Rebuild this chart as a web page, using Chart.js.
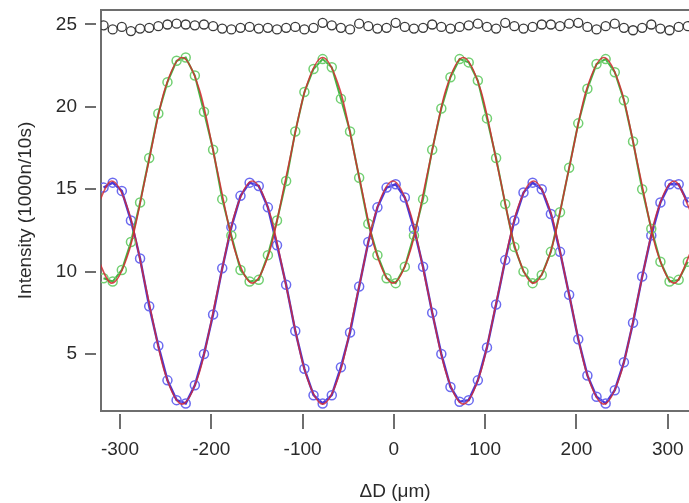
<!DOCTYPE html>
<html>
<head>
<meta charset="utf-8">
<script src="https://cdn.jsdelivr.net/npm/chart.js@4.4.1/dist/chart.umd.min.js"></script>
<style>
  html, body { margin: 0; padding: 0; background: #fff; }
</style>
</head>
<body>
<canvas id="grafico" width="689" height="503"></canvas>
<script>
// posições ΔD (µm) das medidas
const posicoes = [-318, -308, -298, -288, -278, -268, -258, -248, -238, -228,
  -218, -208, -198, -188, -178, -168, -158, -148, -138, -128,
  -118, -108, -98, -88, -78, -68, -58, -48, -38, -28,
  -18, -8, 2, 12, 22, 32, 42, 52, 62, 72,
  82, 92, 102, 112, 122, 132, 142, 152, 162, 172,
  182, 192, 202, 212, 222, 232, 242, 252, 262, 272,
  282, 292, 302, 312, 322];

// soma (círculos pretos)
const total = [24.95, 24.7, 24.85, 24.6, 24.75, 24.8, 24.9, 25.0, 25.05, 25.0,
  24.95, 25.0, 24.9, 24.75, 24.7, 24.8, 24.85, 24.75, 24.8, 24.7,
  24.8, 24.85, 24.7, 24.8, 25.1, 24.95, 24.8, 24.7, 25.05, 24.9,
  24.75, 24.8, 25.1, 24.85, 24.75, 24.8, 25.0, 24.85, 24.75, 24.85,
  24.95, 25.05, 24.85, 24.75, 25.1, 24.9, 24.75, 24.85, 25.0, 25.0,
  24.9, 25.05, 25.1, 24.85, 24.7, 24.9, 25.05, 24.8, 24.65, 24.8,
  25.0, 24.75, 24.65, 24.85, 24.9];

// canal verde
const verde = [9.6, 9.4, 10.1, 11.8, 14.2, 16.9, 19.6, 21.5, 22.8, 23.0,
  21.9, 19.7, 17.4, 14.4, 12.2, 10.1, 9.4, 9.5, 11.0, 13.1,
  15.5, 18.5, 20.9, 22.3, 22.9, 22.4, 20.5, 18.5, 15.7, 12.9,
  11.0, 9.6, 9.3, 10.3, 12.2, 14.4, 17.4, 19.9, 21.8, 22.9,
  22.7, 21.6, 19.3, 16.9, 14.1, 11.5, 10.0, 9.3, 9.8, 11.2,
  13.6, 16.3, 19.0, 21.1, 22.6, 22.9, 22.1, 20.4, 17.9, 15.0,
  12.6, 10.6, 9.4, 9.5, 10.6];

// canal azul
const azul = [15.1, 15.4, 14.9, 13.1, 10.8, 7.9, 5.5, 3.4, 2.2, 2.0,
  3.1, 5.0, 7.4, 10.2, 12.7, 14.6, 15.4, 15.2, 13.9, 11.6,
  9.2, 6.4, 4.1, 2.5, 2.0, 2.5, 4.2, 6.3, 9.1, 11.8,
  13.9, 15.1, 15.3, 14.5, 12.6, 10.3, 7.5, 5.0, 3.0, 2.1,
  2.2, 3.4, 5.4, 8.0, 10.7, 13.1, 14.8, 15.4, 15.0, 13.5,
  11.2, 8.6, 5.9, 3.7, 2.4, 2.0, 2.8, 4.5, 6.9, 9.7,
  12.2, 14.2, 15.3, 15.3, 14.2];

// curvas de ajuste (vermelho)
const posicoesAjuste = [-328.25, -309, -289.75, -270.5, -251.25, -232, -212.75, -193.5, -174.25, -155,
  -135.75, -116.5, -97.25, -78, -58.75, -39.5, -20.25, -1, 18.25, 37.5,
  56.75, 76, 95.25, 114.5, 133.75, 153, 172.25, 191.5, 210.75, 230,
  249.25, 268.5, 287.75, 307, 326.25];
const ajusteVerde = [11.31, 9.3, 11.31, 16.15, 20.99, 23.0, 20.99, 16.15, 11.31, 9.3,
  11.31, 16.15, 20.99, 23.0, 20.99, 16.15, 11.31, 9.3, 11.31, 16.15,
  20.99, 23.0, 20.99, 16.15, 11.31, 9.3, 11.31, 16.15, 20.99, 23.0,
  20.99, 16.15, 11.31, 9.3, 11.31];
const ajusteAzul = [13.52, 15.5, 13.52, 8.73, 3.94, 1.96, 3.94, 8.73, 13.52, 15.5,
  13.52, 8.73, 3.94, 1.96, 3.94, 8.73, 13.52, 15.5, 13.52, 8.73,
  3.94, 1.96, 3.94, 8.73, 13.52, 15.5, 13.52, 8.73, 3.94, 1.96,
  3.94, 8.73, 13.52, 15.5, 13.52];

const rotulosX = [-300, -200, -100, 0, 100, 200, 300];
const rotulosY = [5, 10, 15, 20, 25];

const COR_EIXO = '#6e6e6e';
const COR_TEXTO = '#2a2a2a';
const FONTE = "'Liberation Sans', Arial, Helvetica, sans-serif";

function pares(xs, ys) {
  return xs.map((x, i) => ({ x: x, y: ys[i] }));
}

// moldura superior e marcas dos eixos (afastadas do eixo, como no original)
const marcasEixo = {
  id: 'marcasEixo',
  afterDraw(chart) {
    const { ctx, chartArea, scales } = chart;
    ctx.save();
    ctx.strokeStyle = COR_EIXO;
    ctx.lineWidth = 2;
    ctx.beginPath();
    ctx.moveTo(chartArea.left - 1, chartArea.top);
    ctx.lineTo(chartArea.right, chartArea.top);
    rotulosX.forEach(v => {
      const x = Math.round(scales.x.getPixelForValue(v));
      ctx.moveTo(x, chartArea.bottom + 3);
      ctx.lineTo(x, chartArea.bottom + 18);
    });
    rotulosY.forEach(v => {
      const y = Math.round(scales.y.getPixelForValue(v));
      ctx.moveTo(chartArea.left - 16, y);
      ctx.lineTo(chartArea.left - 5, y);
    });
    ctx.stroke();
    ctx.restore();
  }
};

const ctx = document.getElementById('grafico').getContext('2d');
new Chart(ctx, {
  type: 'line',
  data: {
    datasets: [
      {
        label: 'ajuste verde',
        data: pares(posicoesAjuste, ajusteVerde),
        borderColor: 'rgba(212, 40, 48, 0.85)',
        borderWidth: 1.6,
        pointRadius: 0,
        cubicInterpolationMode: 'monotone',
        order: 0
      },
      {
        label: 'ajuste azul',
        data: pares(posicoesAjuste, ajusteAzul),
        borderColor: 'rgba(212, 40, 48, 0.8)',
        borderWidth: 1.6,
        pointRadius: 0,
        cubicInterpolationMode: 'monotone',
        order: 0
      },
      {
        label: 'verde',
        data: pares(posicoes, verde),
        borderColor: '#45b545',
        borderWidth: 2,
        pointRadius: 4.5,
        pointBorderWidth: 1.5,
        pointBorderColor: '#72d072',
        pointBackgroundColor: 'rgba(0,0,0,0)',
        order: 1
      },
      {
        label: 'azul',
        data: pares(posicoes, azul),
        borderColor: '#4a3ad8',
        borderWidth: 2.4,
        pointRadius: 4.5,
        pointBorderWidth: 1.5,
        pointBorderColor: '#6b6bf0',
        pointBackgroundColor: 'rgba(0,0,0,0)',
        order: 1
      },
      {
        label: 'total',
        data: pares(posicoes, total),
        showLine: false,
        pointRadius: 4.5,
        pointBorderWidth: 1.3,
        pointBorderColor: '#3a3a3a',
        pointBackgroundColor: 'rgba(0,0,0,0)',
        order: 1
      }
    ]
  },
  options: {
    responsive: false,
    animation: false,
    layout: { autoPadding: false, padding: { top: 10, right: 0, bottom: 0, left: 0 } },
    plugins: {
      legend: { display: false },
      tooltip: { enabled: false }
    },
    scales: {
      x: {
        type: 'linear',
        min: -320.8,
        max: 323.3,
        afterBuildTicks: s => { s.ticks = rotulosX.map(v => ({ value: v })); },
        afterFit: s => {
          s.height = 92;
          s.paddingLeft = 0;
          s.paddingRight = 0;
        },
        grid: { display: false, drawTicks: false },
        border: { display: true, color: COR_EIXO, width: 2 },
        ticks: {
          padding: 27,
          color: COR_TEXTO,
          font: { family: FONTE, size: 19 },
          maxRotation: 0
        },
        title: {
          display: true,
          text: 'ΔD (μm)',
          color: COR_TEXTO,
          font: { family: FONTE, size: 19 },
          padding: { top: 0, bottom: 0 }
        }
      },
      y: {
        type: 'linear',
        min: 1.54,
        max: 25.88,
        afterBuildTicks: s => { s.ticks = rotulosY.map(v => ({ value: v })); },
        afterFit: s => {
          s.width = 101;
          s.paddingTop = 0;
          s.paddingBottom = 0;
        },
        grid: { display: false, drawTicks: false },
        border: { display: true, color: COR_EIXO, width: 2 },
        ticks: {
          padding: 24,
          color: COR_TEXTO,
          font: { family: FONTE, size: 19 }
        },
        title: {
          display: true,
          text: 'Intensity (1000n/10s)',
          color: COR_TEXTO,
          font: { family: FONTE, size: 19 },
          padding: { top: 14, bottom: 0 }
        }
      }
    }
  },
  plugins: [marcasEixo]
});
</script>
</body>
</html>
